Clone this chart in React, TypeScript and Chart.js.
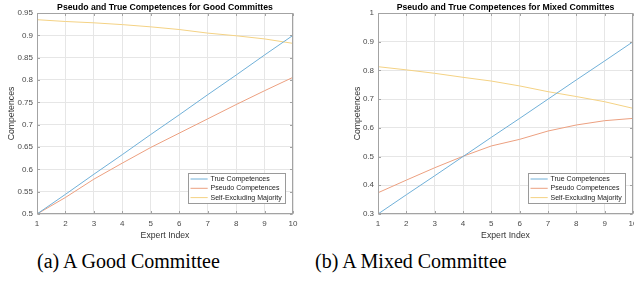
import React, { useEffect, useRef } from "react";
import { Chart, registerables } from "chart.js";

Chart.register(...registerables);

// ---------------- data ----------------
const expertIndex = ["1", "2", "3", "4", "5", "6", "7", "8", "9", "10"];
const seriesLabels = ["True Competences", "Pseudo Competences", "Self-Excluding Majority"];

const goodTrue = [0.5, 0.544, 0.589, 0.633, 0.678, 0.722, 0.767, 0.811, 0.856, 0.9];
const goodPseudo = [0.5, 0.537, 0.578, 0.614, 0.649, 0.681, 0.713, 0.745, 0.776, 0.806];
const goodSelfExcl = [0.935, 0.931, 0.928, 0.924, 0.919, 0.913, 0.905, 0.899, 0.892, 0.882];
const goodYTicks = [0.5, 0.55, 0.6, 0.65, 0.7, 0.75, 0.8, 0.85, 0.9, 0.95];

const mixedTrue = [0.3, 0.367, 0.433, 0.5, 0.567, 0.633, 0.7, 0.767, 0.833, 0.9];
const mixedPseudo = [0.374, 0.418, 0.461, 0.501, 0.537, 0.56, 0.589, 0.61, 0.625, 0.633];
const mixedSelfExcl = [0.813, 0.802, 0.79, 0.776, 0.763, 0.746, 0.726, 0.709, 0.691, 0.668];
const mixedYTicks = [0.3, 0.4, 0.5, 0.6, 0.7, 0.8, 0.9, 1];

const titles = [
  "Pseudo and True Competences for Good Committes",
  "Pseudo and True Competences for Mixed Committes",
];
const captions = ["(a) A Good Committee", "(b) A Mixed Committee"];
const xTitle = "Expert Index";
const yTitle = "Competences";

// ---------------- styles ----------------
const FONT = "'Liberation Sans', Arial, Helvetica, sans-serif";
const seriesColors = ["rgb(112,176,216)", "rgb(236,160,128)", "rgb(244,210,132)"];
const gridColor = "#e6e6e6";
const boxColor = "#a3a3a3";
const tickColor = "#4a4a4a";
const labelColor = "#333333";

const CANVAS_H = 245;
const PLOT_TOP = 13;
const PLOT_BOTTOM = 214;

const decorPlugin = {
  id: "decor",
  afterDraw(chart: any, _args: any, opts: any) {
    const { ctx, chartArea: a } = chart;
    const xs = chart.scales.x;
    const ys = chart.scales.y;
    ctx.save();
    // axes box
    ctx.strokeStyle = boxColor;
    ctx.lineWidth = 1;
    const L = Math.round(a.left) + 0.5;
    const T = Math.round(a.top) + 0.5;
    const R = Math.round(a.right) - 0.5;
    const B = Math.round(a.bottom) - 0.5;
    ctx.strokeRect(L, T, R - L, B - T);
    // inward tick marks
    const tl = 2.5;
    ctx.beginPath();
    xs.ticks.forEach((_t: any, i: number) => {
      const x = Math.round(xs.getPixelForTick(i)) + 0.5;
      ctx.moveTo(x, B);
      ctx.lineTo(x, B - tl);
      ctx.moveTo(x, T);
      ctx.lineTo(x, T + tl);
    });
    ys.ticks.forEach((t: any) => {
      const y = Math.round(ys.getPixelForValue(t.value)) + 0.5;
      ctx.moveTo(L, y);
      ctx.lineTo(L + tl, y);
      ctx.moveTo(R, y);
      ctx.lineTo(R - tl, y);
    });
    ctx.stroke();

    const cx = (a.left + a.right) / 2;
    // title
    ctx.fillStyle = "#000";
    ctx.font = `bold 8.7px ${FONT}`;
    ctx.textAlign = "center";
    ctx.textBaseline = "alphabetic";
    ctx.fillText(opts.title, cx, 9.8);
    // x title
    ctx.fillStyle = labelColor;
    ctx.font = `8.7px ${FONT}`;
    ctx.fillText(opts.xTitle, cx, 237.6);
    // y title
    ctx.save();
    ctx.translate(opts.yTitleX, (a.top + a.bottom) / 2);
    ctx.rotate(-Math.PI / 2);
    ctx.fillText(opts.yTitle, 0, 0);
    ctx.restore();

    // legend
    const ds = chart.data.datasets;
    const lx = Math.round(a.right - 105.5) + 0.5;
    const lw = 97;
    const lh = 30;
    const ly = Math.round(a.bottom - 11 - lh) + 0.5;
    ctx.fillStyle = "#fff";
    ctx.fillRect(lx, ly, lw, lh);
    ctx.strokeStyle = "#9a9a9a";
    ctx.strokeRect(lx, ly, lw, lh);
    ctx.font = `7px ${FONT}`;
    ctx.textAlign = "left";
    ctx.textBaseline = "middle";
    ds.forEach((d: any, i: number) => {
      const cy = ly + 5.5 + i * 9.3;
      ctx.strokeStyle = d.borderColor;
      ctx.lineWidth = 1;
      ctx.beginPath();
      ctx.moveTo(lx + 2, cy);
      ctx.lineTo(lx + 19.2, cy);
      ctx.stroke();
      ctx.fillStyle = "#222";
      ctx.fillText(d.label, lx + 22, cy);
    });
    ctx.restore();
  },
};

type PanelProps = {
  left: number;
  width: number;
  plotLeft: number;
  plotRight: number;
  yMin: number;
  yMax: number;
  yTicks: number[];
  series: number[][];
  title: string;
  yTitleX: number;
};

function Panel(p: PanelProps) {
  const ref = useRef<HTMLCanvasElement | null>(null);
  useEffect(() => {
    const canvas = ref.current;
    if (!canvas) return;
    const chart = new Chart(canvas, {
      type: "line",
      data: {
        labels: expertIndex,
        datasets: p.series.map((vals, i) => ({
          label: seriesLabels[i],
          data: vals,
          borderColor: seriesColors[i],
          backgroundColor: seriesColors[i],
          borderWidth: 1,
          pointRadius: 0,
          tension: 0,
          fill: false,
        })),
      },
      options: {
        responsive: false,
        animation: false,
        devicePixelRatio: 1,
        layout: {
          padding: { left: 0, right: p.width - p.plotRight, top: PLOT_TOP, bottom: 0 },
        },
        plugins: {
          legend: { display: false },
          title: { display: false },
          tooltip: { enabled: false },
          decor: { title: p.title, xTitle, yTitle, yTitleX: p.yTitleX },
        } as any,
        scales: {
          x: {
            type: "category",
            offset: false,
            grid: { color: gridColor, drawTicks: false, lineWidth: 1 },
            border: { display: false },
            ticks: {
              font: { family: FONT, size: 8 },
              color: tickColor,
              padding: 4.5,
              maxRotation: 0,
              autoSkip: false,
            },
            afterFit: (s: any) => {
              s.height = CANVAS_H - PLOT_BOTTOM;
            },
          },
          y: {
            type: "linear",
            min: p.yMin,
            max: p.yMax,
            afterBuildTicks: (s: any) => {
              s.ticks = p.yTicks.map((v) => ({ value: v }));
            },
            grid: { color: gridColor, drawTicks: false, lineWidth: 1 },
            border: { display: false },
            ticks: {
              font: { family: FONT, size: 8 },
              color: tickColor,
              padding: 4,
              callback: (v: any) => String(+Number(v).toFixed(2)),
            },
            afterFit: (s: any) => {
              s.width = p.plotLeft;
            },
          },
        },
      } as any,
      plugins: [decorPlugin as any],
    });
    return () => chart.destroy();
  }, []);
  return (
    <canvas
      ref={ref}
      width={p.width}
      height={CANVAS_H}
      style={{ position: "absolute", left: p.left, top: 0, width: p.width, height: CANVAS_H }}
    />
  );
}

const captionStyle: React.CSSProperties = {
  position: "absolute",
  top: 250,
  fontFamily: "'Liberation Serif', 'Times New Roman', serif",
  fontSize: 20,
  lineHeight: "23px",
  color: "#000",
  whiteSpace: "nowrap",
};

export default function App() {
  return (
    <div
      style={{
        position: "fixed",
        left: 0,
        top: 0,
        width: 634,
        height: 289,
        overflow: "hidden",
        background: "#fff",
      }}
    >
      <Panel
        left={0}
        width={317}
        plotLeft={37}
        plotRight={293}
        yMin={0.5}
        yMax={0.95}
        yTicks={goodYTicks}
        series={[goodTrue, goodPseudo, goodSelfExcl]}
        title={titles[0]}
        yTitleX={14}
      />
      <Panel
        left={317}
        width={350}
        plotLeft={61}
        plotRight={316}
        yMin={0.3}
        yMax={1}
        yTicks={mixedYTicks}
        series={[mixedTrue, mixedPseudo, mixedSelfExcl]}
        title={titles[1]}
        yTitleX={42.6}
      />
      <div style={{ ...captionStyle, left: 37 }}>{captions[0]}</div>
      <div style={{ ...captionStyle, left: 315 }}>{captions[1]}</div>
    </div>
  );
}
